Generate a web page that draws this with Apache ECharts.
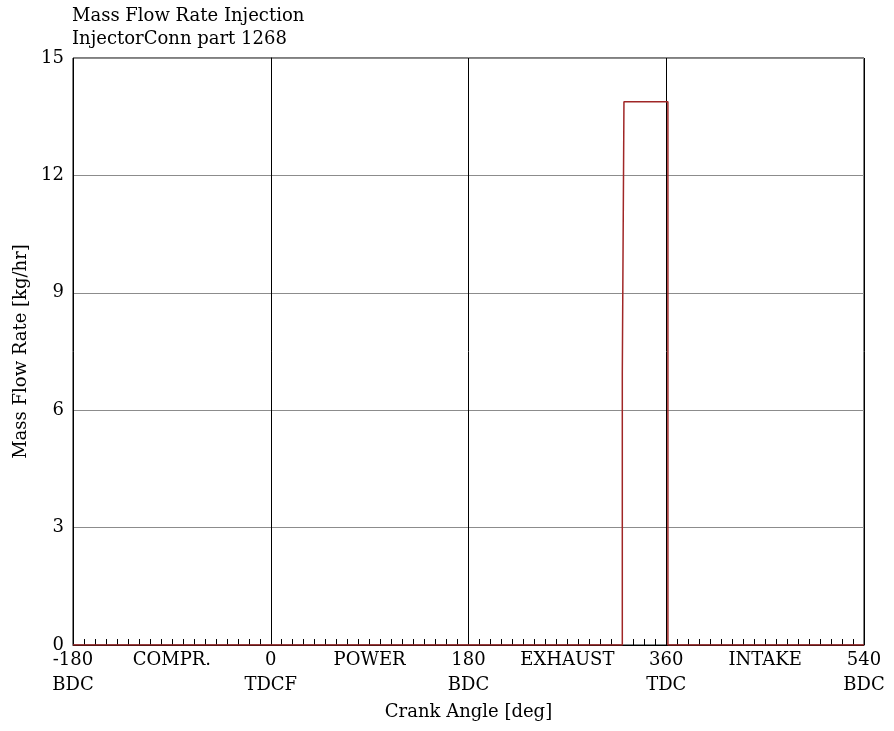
<!DOCTYPE html>
<html>
<head>
<meta charset="utf-8">
<script src="https://cdn.jsdelivr.net/npm/echarts@6/dist/echarts.min.js"></script>
<style>
  html, body { margin: 0; padding: 0; background: #fff; }
  #chart { width: 894px; height: 731px; }
</style>
</head>
<body>
<div id="chart"></div>
<script>
// Injector mass flow rate over one 720-degree engine cycle
const crankAngle = [-180, 320, 320, 321.5, 321.5, 361.5, 361.5, 540];
const massFlow   = [0,    0,   6.94, 6.94, 13.88, 13.88, 0,     0];

// Dead-centre markers and stroke names along the crank axis
const deadCentreLabels = { '-180': 'BDC', '0': 'TDCF', '180': 'BDC', '360': 'TDC', '540': 'BDC' };
const strokeLabels = { '-90': 'COMPR.', '90': 'POWER', '270': 'EXHAUST', '450': 'INTAKE' };
const yTicks = [0, 3, 6, 9, 12, 15];

const FONT = '"DejaVu Serif", "Liberation Serif", serif';
const FS = 18;
const chart = echarts.init(document.getElementById('chart'), null, { renderer: 'canvas' });

chart.setOption({
  animation: false,
  backgroundColor: '#fff',
  title: {
    text: 'Mass Flow Rate Injection\nInjectorConn part 1268',
    left: 72, top: 5, padding: 0,
    textStyle: { fontFamily: FONT, fontSize: FS, fontWeight: 'normal', color: '#000', lineHeight: 23 }
  },
  grid: { left: 73, right: 30, top: 58, bottom: 86, show: true, borderColor: '#000', borderWidth: 1, backgroundColor: 'transparent' },
  xAxis: [
    {
      type: 'value', min: -180, max: 540, interval: 90,
      name: 'Crank Angle [deg]', nameLocation: 'middle', nameGap: 40,
      nameTextStyle: { fontFamily: FONT, fontSize: FS, color: '#000' },
      axisLine: { lineStyle: { color: '#000' } },
      axisTick: { show: true, inside: true, length: 6, lineStyle: { color: '#000' } },
      minorTick: { show: true, splitNumber: 9, length: 6, lineStyle: { color: '#000' } },
      splitLine: { show: false },
      axisLabel: {
        margin: 3, fontFamily: FONT, fontSize: FS, color: '#000', lineHeight: 25,
        formatter: function (v) {
          const k = String(v);
          if (deadCentreLabels[k]) return k + '\n' + deadCentreLabels[k];
          return strokeLabels[k] || '';
        }
      }
    },
    {
      type: 'value', min: -180, max: 540, interval: 180, position: 'bottom',
      axisLine: { show: false }, axisTick: { show: false }, axisLabel: { show: false },
      splitLine: { show: true, lineStyle: { color: '#000', width: 1 } }
    }
  ],
  yAxis: {
    type: 'value', min: yTicks[0], max: yTicks[yTicks.length - 1], interval: 3,
    name: 'Mass Flow Rate [kg/hr]', nameLocation: 'middle', nameGap: 36,
    nameTextStyle: { fontFamily: FONT, fontSize: FS, color: '#000' },
    axisLine: { show: true, lineStyle: { color: '#000' } },
    axisTick: { show: false },
    splitLine: { show: true, lineStyle: { color: '#8c8c8c', width: 1 } },
    axisLabel: { margin: 9, fontFamily: FONT, fontSize: FS, color: '#000' }
  },
  series: [{
    type: 'line',
    xAxisIndex: 0,
    data: crankAngle.map((a, i) => [a, massFlow[i]]),
    showSymbol: false,
    lineStyle: { color: '#a02626', width: 1.5 },
    z: 5
  }]
});
</script>
</body>
</html>
